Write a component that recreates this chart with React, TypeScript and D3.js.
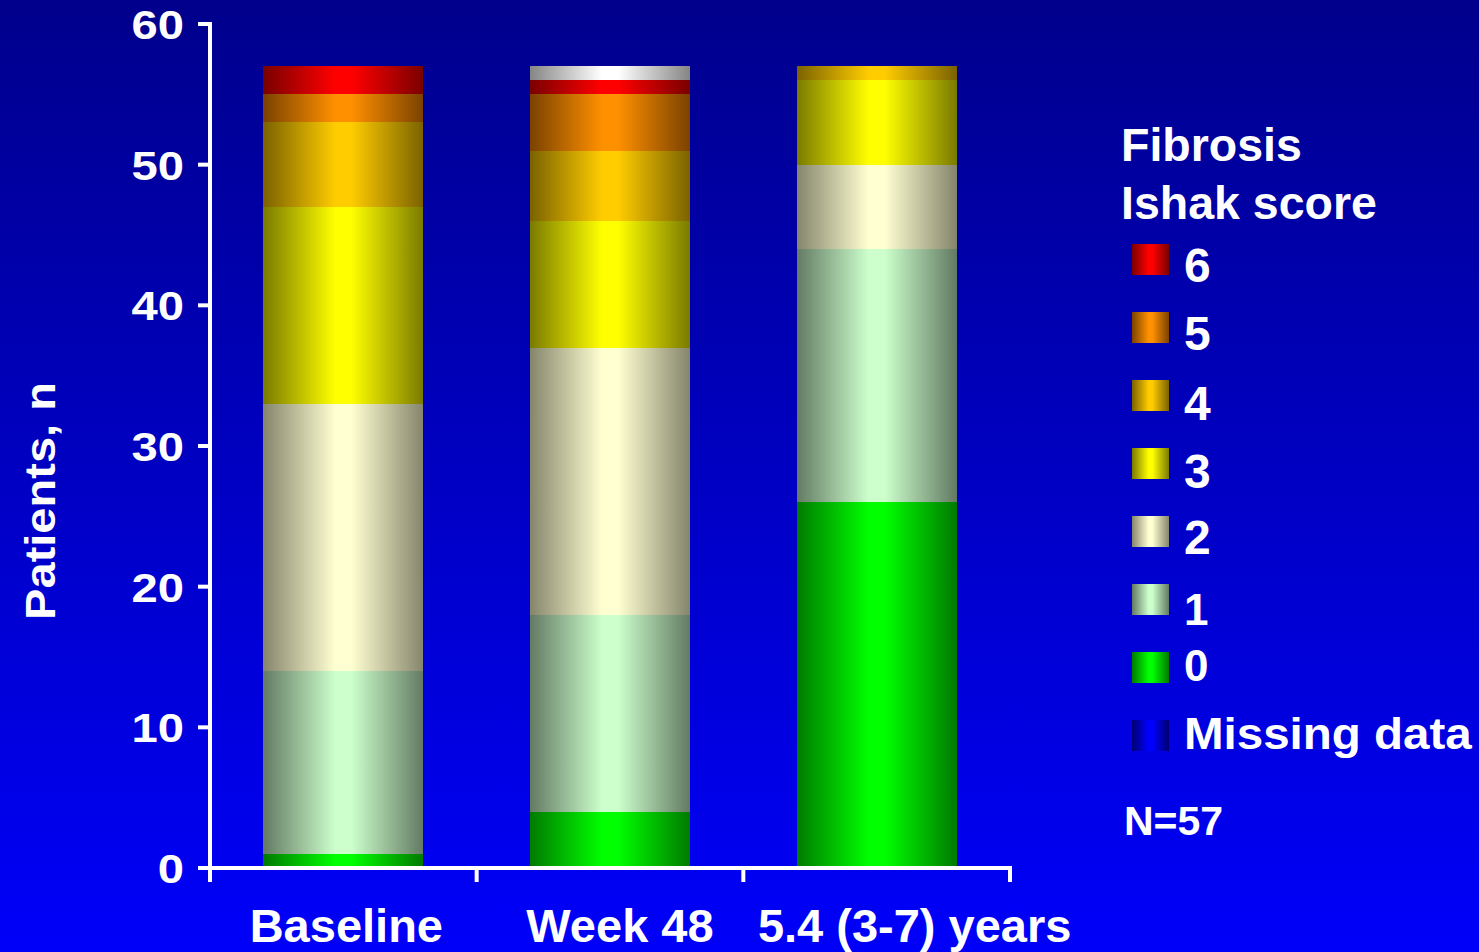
import React from "react";
import * as d3 from "d3";

// Fibrosis (Ishak score) distribution at three time points, N = 57
const timepoints = ["Baseline", "Week 48", "5.4 (3-7) years"];
const scoreKeys = ["s0", "s1", "s2", "s3", "s4", "s5", "s6", "ungraded"];
const score0 = [1, 4, 26];
const score1 = [13, 14, 18];
const score2 = [19, 19, 6];
const score3 = [14, 9, 6];
const score4 = [6, 5, 1];
const score5 = [2, 4, 0];
const score6 = [2, 1, 0];
const ungraded = [0, 1, 0];
const yTicks = [0, 10, 20, 30, 40, 50, 60];
const legendLabels = ["6", "5", "4", "3", "2", "1", "0", "Missing data"];
const legendKeys = ["s6", "s5", "s4", "s3", "s2", "s1", "s0", "missing"];

// bright centre / dark edge pairs for the cylinder-style shading
const shades: Record<string, [string, string]> = {
  s0: ["#00ff00", "#007a00"],
  s1: ["#ccffcc", "#637a63"],
  s2: ["#ffffd2", "#85856c"],
  s3: ["#ffff00", "#7a7a00"],
  s4: ["#ffcc00", "#7a6200"],
  s5: ["#ff9000", "#7a4200"],
  s6: ["#ff0000", "#7a0000"],
  ungraded: ["#ffffff", "#858585"],
  missing: ["#0000ff", "#000070"],
};

const W = 1479;
const H = 952;
const FONT = "'Liberation Sans', Arial, sans-serif";

export default function App() {
  const rows = timepoints.map((t, i) => ({
    t,
    s0: score0[i],
    s1: score1[i],
    s2: score2[i],
    s3: score3[i],
    s4: score4[i],
    s5: score5[i],
    s6: score6[i],
    ungraded: ungraded[i],
  }));

  const series = d3.stack<any>().keys(scoreKeys)(rows);

  const x = d3
    .scaleBand<string>()
    .domain(timepoints)
    .range([210, 1010])
    .paddingInner(0.4)
    .paddingOuter(0.2);
  const y = d3.scaleLinear().domain([0, 60]).range([868, 24]);
  const step = x.step();
  const boundaries = d3.range(timepoints.length + 1).map((i) => 210 + i * step);
  const labelShift = [3, 10, 38];

  const legendTop = 244;
  const legendStep = 68;
  const legendDy = [38, 38, 40, 40, 38, 41, 29, 29];
  const legendSize = [48, 48, 48, 48, 48, 44, 44, 44];

  return (
    <svg
      width={W}
      height={H}
      style={{ position: "absolute", left: 0, top: 0, display: "block" }}
      fontFamily={FONT}
      fontWeight="bold"
    >
      <defs>
        <linearGradient id="bg" x1="0" y1="0" x2="0" y2="1">
          <stop offset="0" stopColor="#00008c" />
          <stop offset="1" stopColor="#0000fa" />
        </linearGradient>
        {Object.entries(shades).map(([k, [c, e]]) => (
          <linearGradient key={k} id={`g-${k}`} x1="0" y1="0" x2="1" y2="0">
            <stop offset="0" stopColor={e} />
            <stop offset="0.45" stopColor={c} />
            <stop offset="0.55" stopColor={c} />
            <stop offset="1" stopColor={e} />
          </linearGradient>
        ))}
      </defs>
      <rect x={0} y={0} width={W} height={H} fill="url(#bg)" />

      {/* stacked bars */}
      <g shapeRendering="crispEdges">
        {series.map((s) =>
          s.map((d, i) =>
            d[1] - d[0] > 0 ? (
              <rect
                key={`${s.key}-${i}`}
                x={x(timepoints[i])}
                y={Math.round(y(d[1]))}
                width={x.bandwidth()}
                height={Math.round(y(d[0])) - Math.round(y(d[1]))}
                fill={`url(#g-${s.key})`}
              />
            ) : null
          )
        )}
      </g>

      {/* axes */}
      <g stroke="#ffffff" strokeWidth={4}>
        <line x1={210} x2={210} y1={y(60) - 2} y2={882} />
        {yTicks.map((t) => (
          <line key={t} x1={198} x2={210} y1={y(t)} y2={y(t)} />
        ))}
        <line x1={208} x2={1012} y1={y(0)} y2={y(0)} />
        {boundaries.map((b, i) => (
          <line key={i} x1={b} x2={b} y1={y(0)} y2={882} />
        ))}
      </g>
      {yTicks.map((t) => (
        <text
          key={t}
          transform={`translate(184,${y(t) + 15}) scale(1.15,1)`}
          textAnchor="end"
          fontSize={41}
          fill="#ffffff"
        >
          {t}
        </text>
      ))}
      <text
        transform="translate(55,501) rotate(-90) scale(1.12,1)"
        textAnchor="middle"
        fontSize={42}
        fill="#ffffff"
      >
        Patients, n
      </text>

      {/* category labels */}
      {timepoints.map((t, i) => (
        <text
          key={t}
          x={(x(t) as number) + x.bandwidth() / 2 + labelShift[i]}
          y={942}
          textAnchor="middle"
          fontSize={47}
          fill="#ffffff"
        >
          {t}
        </text>
      ))}

      {/* legend */}
      <text x={1121} y={161} fontSize={46.5} fill="#ffffff">
        Fibrosis
      </text>
      <text x={1121} y={219} fontSize={46.5} fill="#ffffff">
        Ishak score
      </text>
      <g>
        {legendKeys.map((k, i) => {
          const top = legendTop + i * legendStep;
          return (
            <g key={k}>
              <rect x={1132} y={top} width={37} height={31} fill={`url(#g-${k})`} />
              <text
                transform={`translate(1184,${top + legendDy[i]}) scale(${k === "missing" ? 1.08 : 1},1)`}
                fontSize={legendSize[i]}
                fill="#ffffff"
              >
                {legendLabels[i]}
              </text>
            </g>
          );
        })}
      </g>
      <text x={1124} y={835} fontSize={41} fill="#ffffff">
        N=57
      </text>
    </svg>
  );
}
